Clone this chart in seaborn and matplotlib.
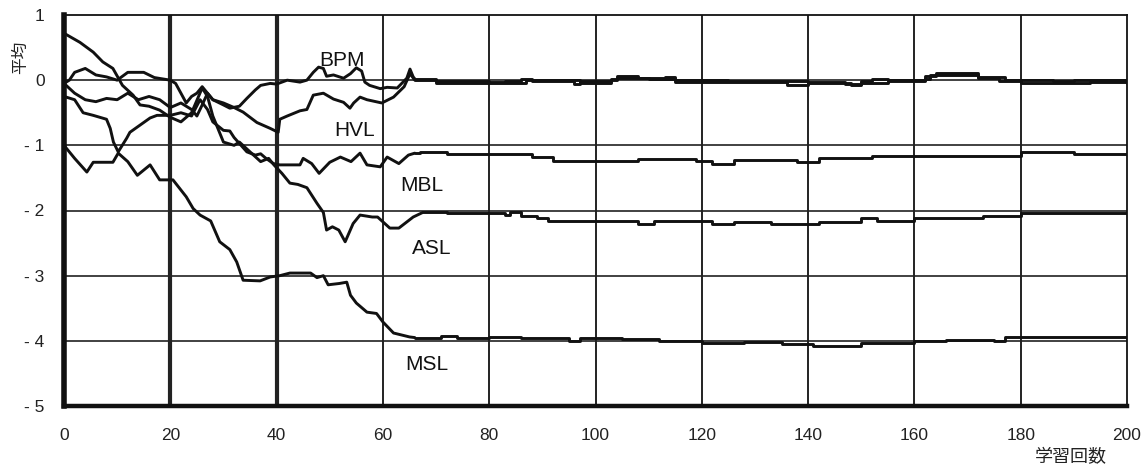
import matplotlib
matplotlib.use('Agg')
import matplotlib.pyplot as plt
import seaborn as sns

# early (chaotic) part of each learning curve
bpm_x = [0, 1, 2, 4, 6, 8, 10, 12, 15, 17, 20, 21, 22, 23, 24, 25, 26, 27, 28, 30, 31.2, 33, 34.4, 36, 37,
         38.8, 40, 42, 44.4, 45.7, 46.9, 47.9, 48.8, 49.4, 50.7, 52.6, 53.9, 55, 56, 56.6, 57.5, 59.5,
         60.8, 62.7, 64.5, 65.1, 65.7, 66]
bpm_y = [-0.05, 0.0, 0.12, 0.18, 0.08, 0.05, 0.0, 0.12, 0.12, 0.04, 0.0, -0.05, -0.2, -0.35, -0.25, -0.2,
         -0.1, -0.2, -0.3, -0.38, -0.43, -0.4, -0.28, -0.15, -0.08, -0.05, -0.06, 0.0, -0.03, 0.0, 0.12,
         0.2, 0.18, 0.06, 0.08, 0.03, 0.1, 0.19, 0.14, -0.03, -0.08, -0.13, -0.11, -0.12, 0.03, 0.17,
         0.05, 0.02]

hvl_x = [0, 2, 4, 6, 8, 10, 12, 14, 16, 18, 20, 22, 24, 25, 26, 27, 28, 30, 32, 33.7, 36.3, 38.8, 40.3,
         40.6, 42, 44.4, 45.7, 46.9, 48.8, 50.7, 52.6, 53.8, 54.5, 55.7, 57, 59.8, 62, 64, 65.1, 66]
hvl_y = [-0.05, -0.2, -0.3, -0.33, -0.28, -0.3, -0.2, -0.3, -0.25, -0.3, -0.42, -0.35, -0.45, -0.55,
         -0.38, -0.2, -0.3, -0.35, -0.42, -0.49, -0.65, -0.74, -0.8, -0.6, -0.55, -0.47, -0.45, -0.23,
         -0.2, -0.29, -0.34, -0.43, -0.35, -0.26, -0.3, -0.35, -0.26, -0.1, 0.1, 0.0]

mbl_x = [0, 2, 3.6, 5.5, 8, 8.7, 9.3, 10.2, 11.8, 12.4, 14.3, 16.2, 17.5, 20, 22, 24, 25.6, 27, 28, 30,
         31.2, 32, 34.4, 36, 37, 38, 39.4, 40.6, 44.4, 45, 46.6, 48, 50, 52, 54, 55.7, 57, 59.5, 60.8,
         63, 64.8, 66]
mbl_y = [-0.25, -0.3, -0.5, -0.54, -0.6, -0.74, -0.95, -1.1, -0.89, -0.8, -0.69, -0.58, -0.54, -0.54,
         -0.5, -0.55, -0.3, -0.45, -0.64, -0.77, -0.78, -0.88, -1.1, -1.15, -1.13, -1.2, -1.28, -1.3,
         -1.3, -1.2, -1.28, -1.43, -1.26, -1.18, -1.25, -1.12, -1.3, -1.33, -1.18, -1.28, -1.15, -1.12]

asl_x = [0, 3, 5.5, 7.3, 9.2, 11, 13, 14.3, 16, 18, 20, 22, 24, 26, 27, 28, 29, 30, 32, 33, 35, 37,
         38.5, 39.5, 41, 42.5, 44, 45.7, 47.6, 48.8, 49.4, 50.5, 51.7, 52.9, 54.4, 55.7, 58, 59, 61.3,
         63, 65.7, 67.5]
asl_y = [0.72, 0.58, 0.43, 0.28, 0.18, -0.08, -0.23, -0.38, -0.4, -0.46, -0.57, -0.64, -0.5, -0.12,
         -0.25, -0.55, -0.75, -0.95, -1.0, -0.95, -1.1, -1.25, -1.2, -1.3, -1.43, -1.58, -1.6, -1.65,
         -1.89, -2.03, -2.3, -2.25, -2.3, -2.48, -2.2, -2.07, -2.1, -2.1, -2.27, -2.27, -2.1, -2.03]

msl_x = [0, 2, 4.3, 5.5, 9.2, 10.2, 12, 13.8, 16.2, 18, 20.5, 23, 24.3, 25.6, 27.6, 29.3, 31.2, 32.5,
         33.7, 36.9, 38.8, 40.6, 42.5, 46.4, 47.6, 48.8, 49.7, 51.8, 53.2, 53.9, 55, 57, 58.8, 60, 62,
         65, 66]
msl_y = [-1.0, -1.2, -1.41, -1.26, -1.26, -1.12, -1.25, -1.46, -1.3, -1.53, -1.53, -1.79, -1.97, -2.07,
         -2.16, -2.48, -2.6, -2.79, -3.07, -3.08, -3.02, -3.0, -2.96, -2.96, -3.03, -3.0, -3.14, -3.12,
         -3.1, -3.3, -3.42, -3.56, -3.58, -3.71, -3.88, -3.94, -3.95]

# settled part, drawn as steps
bpm_tail_x = [66, 70, 72, 80, 83, 86, 88, 96, 97, 103, 104, 108, 113, 115, 125, 130, 140, 147, 150, 152,
              155, 162, 164, 172, 177, 186, 190, 200]
bpm_tail_y = [0.02, -0.01, -0.02, -0.03, -0.01, 0.02, -0.02, -0.06, -0.02, 0.02, 0.06, 0.03, 0.05, 0.0,
              -0.02, -0.01, -0.03, -0.06, -0.02, 0.02, 0.0, 0.06, 0.11, 0.05, 0.0, -0.02, 0.0, 0.0]
hvl_tail_x = [66, 70, 80, 87, 97, 103, 104, 110, 115, 136, 140, 148, 150, 155, 162, 163, 172, 176, 180,
              193, 200]
hvl_tail_y = [0.0, -0.04, -0.05, 0.0, -0.05, 0.0, 0.04, 0.02, -0.03, -0.08, -0.04, -0.08, -0.04, -0.02,
              0.02, 0.08, 0.03, -0.02, -0.05, -0.03, -0.05]
mbl_tail_x = [66, 67, 72, 88, 92, 108, 119, 122, 126, 138, 142, 152, 180, 190, 200]
mbl_tail_y = [-1.12, -1.1, -1.13, -1.18, -1.24, -1.21, -1.24, -1.28, -1.23, -1.25, -1.2, -1.16, -1.1,
              -1.14, -1.14]
asl_tail_x = [67.5, 72, 83, 84, 86, 89, 91, 108, 111, 122, 126, 133, 142, 150, 153, 160, 173, 180, 200]
asl_tail_y = [-2.03, -2.04, -2.07, -2.03, -2.08, -2.12, -2.16, -2.2, -2.16, -2.2, -2.18, -2.2, -2.17,
              -2.12, -2.16, -2.12, -2.09, -2.04, -2.04]
msl_tail_x = [66, 71, 74, 80, 86, 95, 97, 105, 112, 120, 128, 135, 141, 150, 160, 166, 175, 177, 200]
msl_tail_y = [-3.95, -3.93, -3.96, -3.94, -3.96, -4.01, -3.96, -3.97, -4.0, -4.04, -4.02, -4.05, -4.08,
              -4.04, -4.01, -3.98, -4.0, -3.94, -3.95]

labels = ['BPM', 'HVL', 'MBL', 'ASL', 'MSL']
label_x = [52.3, 54.7, 67.4, 69.2, 68.3]
label_y = [0.3, -0.77, -1.61, -2.58, -4.37]

x_ticks = list(range(0, 201, 20))
y_ticks = [1, 0, -1, -2, -3, -4, -5]
y_tick_labels = ['1', '0', '- 1', '- 2', '- 3', '- 4', '- 5']

sns.set_style('white')
plt.rcParams['font.family'] = ['Liberation Sans', 'Noto Sans CJK JP', 'DejaVu Sans']

fig = plt.figure(figsize=(11.44, 4.68), dpi=100)
ax = fig.add_axes([64 / 1144, 62 / 468, 1063 / 1144, 391 / 468])

ink = '#111111'
series = [(bpm_x, bpm_y, bpm_tail_x, bpm_tail_y),
          (hvl_x, hvl_y, hvl_tail_x, hvl_tail_y),
          (mbl_x, mbl_y, mbl_tail_x, mbl_tail_y),
          (asl_x, asl_y, asl_tail_x, asl_tail_y),
          (msl_x, msl_y, msl_tail_x, msl_tail_y)]

# grid first, underneath the curves
for yv in y_ticks[1:-1]:
    ax.axhline(yv, color='#333333', lw=1.3, zorder=1)
for xv in x_ticks[1:-1]:
    ax.axvline(xv, color='#222222', lw=3.0 if xv in (20, 40) else 1.4, zorder=1)

for xs, ys, tx, ty in series:
    sns.lineplot(x=xs, y=ys, ax=ax, color=ink, lw=2.1, estimator=None, sort=False, zorder=3)
    sns.lineplot(x=tx, y=ty, ax=ax, color=ink, lw=2.1, estimator=None, sort=False,
                 drawstyle='steps-post', zorder=3)

for name, lx, ly in zip(labels, label_x, label_y):
    ax.text(lx, ly, name, fontsize=15, ha='center', va='center', color=ink, zorder=4)

ax.set_xlim(0, 200)
ax.set_ylim(-5, 1)
ax.set_xticks(x_ticks)
ax.set_yticks(y_ticks)
ax.set_yticklabels(y_tick_labels)
ax.tick_params(axis='both', direction='in', length=4, width=2, color=ink, labelsize=12.5,
               labelcolor='#222222')
ax.tick_params(axis='x', pad=16)
ax.tick_params(axis='y', pad=14)

for side, w in (('left', 4.0), ('bottom', 3.2), ('top', 1.3), ('right', 1.3)):
    ax.spines[side].set_linewidth(w)
    ax.spines[side].set_color(ink)

fig.text(1107 / 1144, 1 - 458 / 468, '学習回数', ha='right', va='center', fontsize=13, color='#222222')
fig.text(21 / 1144, 1 - 57 / 468, '平均', ha='center', va='center', rotation=90, fontsize=12,
         color='#222222')

fig.savefig('out.png', dpi=100)
